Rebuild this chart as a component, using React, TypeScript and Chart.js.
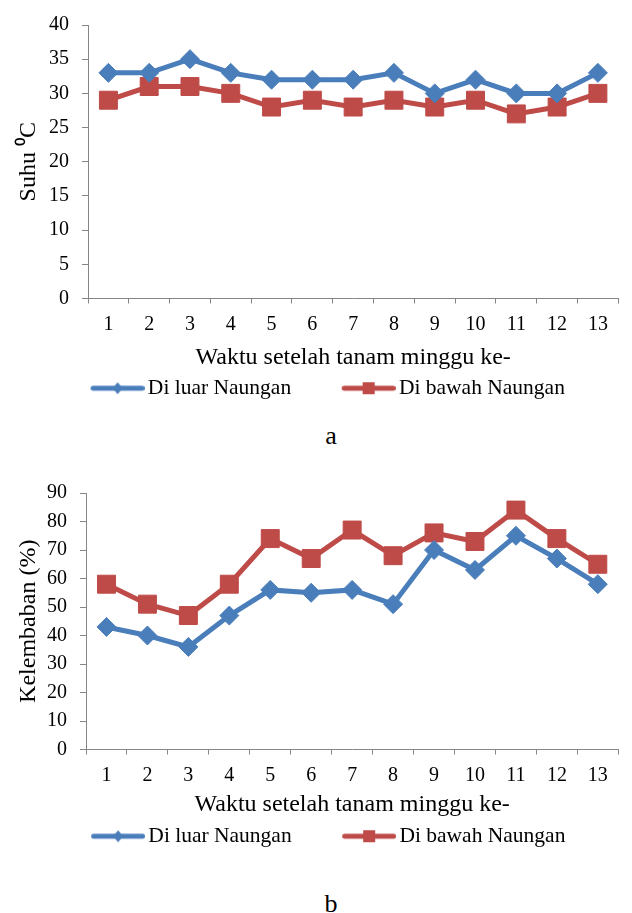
import React, { useEffect, useRef } from "react";
import { Chart, registerables } from "chart.js";

Chart.register(...registerables);

// ---- data ----
const weeks = ["1", "2", "3", "4", "5", "6", "7", "8", "9", "10", "11", "12", "13"];
const seriesNames = ["Di luar Naungan", "Di bawah Naungan"];
const suhuLuar = [33, 33, 35, 33, 32, 32, 32, 33, 30, 32, 30, 30, 33];
const suhuBawah = [29, 31, 31, 30, 28, 29, 28, 29, 28, 29, 27, 28, 30];
const lembabLuar = [43, 40, 36, 47, 56, 55, 56, 51, 70, 63, 75, 67, 58];
const lembabBawah = [58, 51, 47, 58, 74, 67, 77, 68, 76, 73, 84, 74, 65];
const suhuAxis = [0, 40, 5];
const lembabAxis = [0, 90, 10];
const xTitle = "Waktu setelah tanam minggu ke-";
const suhuTitle = "Suhu \u2070C";
const lembabTitle = "Kelembaban (%)";
const panelLabels = ["a", "b"];

// ---- styles ----
const FONT = "'Liberation Serif', 'Times New Roman', serif";
const BLUE = "#4A7EBB";
const RED = "#BE4B48";
const AXIS = "#868686";

function legendIcon(color: string, shape: "diamond" | "square") {
  const c = document.createElement("canvas");
  c.width = 102;
  c.height = 16;
  const ctx = c.getContext("2d")!;
  ctx.strokeStyle = color;
  ctx.lineWidth = 5;
  ctx.lineCap = "round";
  ctx.beginPath();
  ctx.moveTo(50.5, 8);
  ctx.lineTo(99.5, 8);
  ctx.stroke();
  ctx.fillStyle = color;
  const cx = 75, cy = 8;
  if (shape === "diamond") {
    ctx.beginPath();
    ctx.moveTo(cx, cy - 6);
    ctx.lineTo(cx + 5, cy);
    ctx.lineTo(cx, cy + 6);
    ctx.lineTo(cx - 5, cy);
    ctx.closePath();
    ctx.fill();
  } else {
    ctx.fillRect(cx - 6, cy - 6, 12, 12);
  }
  return c;
}

type Props = {
  luar: number[];
  bawah: number[];
  axis: number[];
  yTitle: string;
  width: number;
  height: number;
  padRight: number;
  padTop: number;
  yWidth: number;
  xHeight: number;
  tickPad: number;
  titlePadBottom: number;
  legendDx: number;
};

function LineChart(p: Props) {
  const ref = useRef<HTMLCanvasElement>(null);
  useEffect(() => {
    if (!ref.current) return;
    const icons = [legendIcon(BLUE, "diamond"), legendIcon(RED, "square")];
    const legendShift = {
      id: "legendShift",
      afterLayout(chart: any) {
        if (chart.legend) {
          chart.legend.left += p.legendDx;
          chart.legend.right += p.legendDx;
        }
      },
    };
    const chart = new Chart(ref.current, {
      type: "line",
      data: {
        labels: weeks,
        datasets: [
          {
            label: seriesNames[0],
            data: p.luar,
            borderColor: BLUE,
            backgroundColor: BLUE,
            borderWidth: 5,
            pointStyle: "rectRot",
            pointRadius: 9.5,
            pointHoverRadius: 9.5,
            pointBorderWidth: 1,
            pointBackgroundColor: BLUE,
            pointBorderColor: BLUE,
            tension: 0,
          },
          {
            label: seriesNames[1],
            data: p.bawah,
            borderColor: RED,
            backgroundColor: RED,
            borderWidth: 5,
            pointStyle: "rect",
            pointRadius: 12.7,
            pointHoverRadius: 12.7,
            pointBorderWidth: 1,
            pointBackgroundColor: RED,
            pointBorderColor: RED,
            tension: 0,
          },
        ],
      },
      options: {
        animation: false,
        responsive: false,
        devicePixelRatio: 1,
        layout: { padding: { top: p.padTop, right: p.padRight, bottom: 0, left: 0 } },
        plugins: {
          tooltip: { enabled: false },
          legend: {
            position: "bottom",
            labels: {
              usePointStyle: true,
              pointStyleWidth: 87,
              padding: 10,
              color: "#000",
              font: { family: FONT, size: 21.5 },
              generateLabels: () =>
                seriesNames.map((name, i) => ({
                  text: name,
                  pointStyle: icons[i] as any,
                  fillStyle: i === 0 ? BLUE : RED,
                  strokeStyle: i === 0 ? BLUE : RED,
                  lineWidth: 0,
                  hidden: false,
                  datasetIndex: i,
                  fontColor: "#000",
                })),
            },
          },
        },
        scales: {
          x: {
            type: "category",
            offset: true,
            grid: {
              offset: true,
              drawOnChartArea: false,
              drawTicks: true,
              tickLength: 5,
              color: AXIS,
            },
            border: { display: true, color: AXIS, width: 1 },
            ticks: {
              color: "#000",
              font: { family: FONT, size: 20 },
              padding: p.tickPad,
              maxRotation: 0,
              autoSkip: false,
            },
            title: {
              display: true,
              text: xTitle,
              color: "#000",
              font: { family: FONT, size: 24, lineHeight: 1 },
              padding: { top: 0, bottom: p.titlePadBottom },
            },
            afterFit: (s: any) => {
              s.height = p.xHeight;
            },
          },
          y: {
            min: p.axis[0],
            max: p.axis[1],
            ticks: {
              stepSize: p.axis[2],
              color: "#000",
              font: { family: FONT, size: 20 },
              padding: 13,
            },
            grid: {
              drawOnChartArea: false,
              drawTicks: true,
              tickLength: 6,
              color: AXIS,
            },
            border: { display: true, color: AXIS, width: 1 },
            title: {
              display: true,
              text: p.yTitle,
              color: "#000",
              font: { family: FONT, size: 24, lineHeight: 1 },
              padding: { top: 17, bottom: 0 },
            },
            afterFit: (s: any) => {
              s.width = p.yWidth;
            },
          },
        },
      },
      plugins: [legendShift],
    });
    return () => chart.destroy();
  }, []);
  return (
    <canvas
      ref={ref}
      width={p.width}
      height={p.height}
      style={{ display: "block", width: p.width, height: p.height }}
    />
  );
}

const letterStyle: React.CSSProperties = {
  position: "absolute",
  left: 281,
  width: 100,
  textAlign: "center",
  fontFamily: FONT,
  fontSize: 26,
  lineHeight: "26px",
  color: "#000",
};

export default function App() {
  return (
    <div
      style={{
        position: "absolute",
        left: 0,
        top: 0,
        width: 632,
        height: 913,
        overflow: "hidden",
        background: "#fff",
      }}
    >
      <div style={{ position: "absolute", left: 0, top: 0 }}>
        <LineChart
          luar={suhuLuar}
          bawah={suhuBawah}
          axis={suhuAxis}
          yTitle={suhuTitle}
          width={632}
          height={409}
          padRight={11}
          padTop={19}
          yWidth={88}
          xHeight={69}
          tickPad={9}
          titlePadBottom={-2}
          legendDx={-3}
        />
      </div>
      <div style={{ ...letterStyle, top: 423 }}>{panelLabels[0]}</div>
      <div style={{ position: "absolute", left: 0, top: 468 }}>
        <LineChart
          luar={lembabLuar}
          bawah={lembabBawah}
          axis={lembabAxis}
          yTitle={lembabTitle}
          width={632}
          height={389}
          padRight={2}
          padTop={20}
          yWidth={86}
          xHeight={66}
          tickPad={9}
          titlePadBottom={-1}
          legendDx={-7}
        />
      </div>
      <div style={{ ...letterStyle, top: 891 }}>{panelLabels[1]}</div>
    </div>
  );
}
